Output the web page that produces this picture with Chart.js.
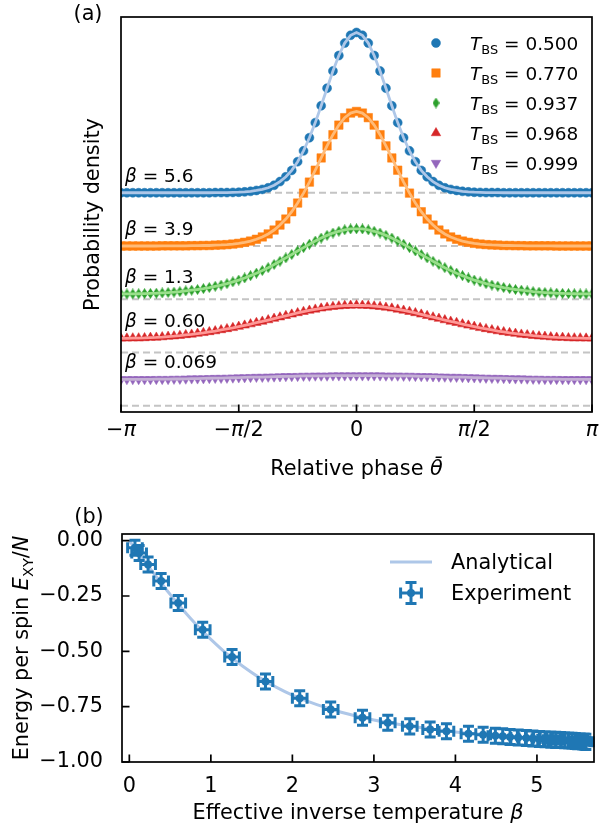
<!DOCTYPE html>
<html>
<head>
<meta charset="utf-8">
<title>Phase distributions and energy per spin</title>
<script src="https://cdn.jsdelivr.net/npm/chart.js@4.4.1/dist/chart.umd.min.js"></script>
<style>
  html, body { margin: 0; padding: 0; background: #ffffff; }
  #wrap { position: relative; width: 600px; height: 823px; overflow: hidden; }
  .panel { position: absolute; left: 0; width: 600px; }
  #panelA { top: 0; height: 490px; }
  #panelB { top: 490px; height: 333px; }
</style>
</head>
<body>
<div id="wrap">
  <div class="panel" id="panelA"><canvas id="chartA"></canvas></div>
  <div class="panel" id="panelB"><canvas id="chartB"></canvas></div>
</div>
<script>
// ---------- panel (a): phase distributions ----------
const phaseDeg = [
  -180, -175.5, -171, -166.5, -162, -157.5, -153, -148.5, -144, -139.5,
  -135, -130.5, -126, -121.5, -117, -112.5, -108, -103.5, -99, -94.5,
  -90, -85.5, -81, -76.5, -72, -67.5, -63, -58.5, -54, -49.5,
  -45, -40.5, -36, -31.5, -27, -22.5, -18, -13.5, -9, -4.5,
  0,
  4.5, 9, 13.5, 18, 22.5, 27, 31.5, 36, 40.5, 45,
  49.5, 54, 58.5, 63, 67.5, 72, 76.5, 81, 85.5, 90,
  94.5, 99, 103.5, 108, 112.5, 117, 121.5, 126, 130.5, 135,
  139.5, 144, 148.5, 153, 157.5, 162, 166.5, 171, 175.5, 180
];
const phaseTicks = [-180, -90, 0, 90, 180];
const phaseTickLabels = ['\u2212\u03c0', '\u2212\u03c0/2', '0', '\u03c0/2', '\u03c0'];

const transmissions = ['0.500', '0.770', '0.937', '0.968', '0.999'];
const betaLabels = ['5.6', '3.9', '1.3', '0.60', '0.069'];
const offsets = [1.2, 0.9, 0.6, 0.3, 0];

const density56 = [
  0, 0, 0, 0, 0, 0, 0, 0, 0, 0, 0, 0, 0, 0, 0, 0,
  0.001, 0.001, 0.001, 0.002, 0.003, 0.005, 0.008, 0.013, 0.019, 0.028, 0.042, 0.063,
  0.090, 0.126, 0.175, 0.236, 0.310, 0.395, 0.490, 0.589, 0.686, 0.773, 0.843, 0.887,
  0.903,
  0.887, 0.843, 0.773, 0.686, 0.589, 0.490, 0.395, 0.310, 0.236, 0.175, 0.126, 0.090,
  0.063, 0.042, 0.028, 0.019, 0.013, 0.008, 0.005, 0.003, 0.002, 0.001, 0.001, 0.001,
  0, 0, 0, 0, 0, 0, 0, 0, 0, 0, 0, 0, 0, 0, 0, 0
];
const density39 = [
  0, 0, 0, 0, 0, 0, 0, 0.001, 0.001, 0.001, 0.001, 0.001, 0.002, 0.002, 0.003, 0.003,
  0.005, 0.006, 0.008, 0.011, 0.015, 0.021, 0.028, 0.038, 0.051, 0.068, 0.090, 0.118,
  0.152, 0.193, 0.242, 0.298, 0.360, 0.427, 0.496, 0.564, 0.627, 0.681, 0.723, 0.749,
  0.758,
  0.749, 0.723, 0.681, 0.627, 0.564, 0.496, 0.427, 0.360, 0.298, 0.242, 0.193, 0.152,
  0.118, 0.090, 0.068, 0.051, 0.038, 0.028, 0.021, 0.015, 0.011, 0.008, 0.006, 0.005,
  0.003, 0.003, 0.002, 0.002, 0.001, 0.001, 0.001, 0.001, 0.001, 0, 0, 0, 0, 0, 0, 0
];
const density13 = [
  0.030, 0.030, 0.030, 0.031, 0.032, 0.033, 0.034, 0.036, 0.038, 0.040, 0.043, 0.047,
  0.051, 0.055, 0.060, 0.066, 0.073, 0.080, 0.088, 0.098, 0.108, 0.120, 0.133, 0.147,
  0.162, 0.178, 0.196, 0.214, 0.233, 0.252, 0.272, 0.291, 0.310, 0.328, 0.345, 0.360,
  0.373, 0.383, 0.391, 0.396,
  0.397,
  0.396, 0.391, 0.383, 0.373, 0.360, 0.345, 0.328, 0.310, 0.291, 0.272, 0.252, 0.233,
  0.214, 0.196, 0.178, 0.162, 0.147, 0.133, 0.120, 0.108, 0.098, 0.088, 0.080, 0.073,
  0.066, 0.060, 0.055, 0.051, 0.047, 0.043, 0.040, 0.038, 0.036, 0.034, 0.033, 0.032,
  0.031, 0.030, 0.030, 0.030
];
const density060 = [
  0.080, 0.080, 0.081, 0.081, 0.082, 0.084, 0.085, 0.087, 0.090, 0.092, 0.095, 0.099,
  0.102, 0.107, 0.111, 0.116, 0.121, 0.127, 0.133, 0.139, 0.146, 0.153, 0.160, 0.168,
  0.175, 0.183, 0.191, 0.199, 0.207, 0.215, 0.223, 0.230, 0.237, 0.243, 0.249, 0.254,
  0.258, 0.261, 0.264, 0.265,
  0.266,
  0.265, 0.264, 0.261, 0.258, 0.254, 0.249, 0.243, 0.237, 0.230, 0.223, 0.215, 0.207,
  0.199, 0.191, 0.183, 0.175, 0.168, 0.160, 0.153, 0.146, 0.139, 0.133, 0.127, 0.121,
  0.116, 0.111, 0.107, 0.102, 0.099, 0.095, 0.092, 0.090, 0.087, 0.085, 0.084, 0.082,
  0.081, 0.081, 0.080, 0.080
];
const density0069 = [
  0.148, 0.149, 0.149, 0.149, 0.149, 0.149, 0.150, 0.150, 0.150, 0.151, 0.151, 0.152,
  0.153, 0.153, 0.154, 0.155, 0.156, 0.156, 0.157, 0.158, 0.159, 0.160, 0.161, 0.162,
  0.162, 0.163, 0.164, 0.165, 0.166, 0.166, 0.167, 0.168, 0.168, 0.169, 0.169, 0.169,
  0.170, 0.170, 0.170, 0.170,
  0.170,
  0.170, 0.170, 0.170, 0.170, 0.169, 0.169, 0.169, 0.168, 0.168, 0.167, 0.166, 0.166,
  0.165, 0.164, 0.163, 0.162, 0.162, 0.161, 0.160, 0.159, 0.158, 0.157, 0.156, 0.156,
  0.155, 0.154, 0.153, 0.153, 0.152, 0.151, 0.151, 0.150, 0.150, 0.150, 0.149, 0.149,
  0.149, 0.149, 0.149, 0.148
];
const densities = [density56, density39, density13, density060, density0069];

// ---------- panel (b): energy per spin ----------
const betaExp = [
  0.069, 0.12, 0.23, 0.39, 0.60, 0.90, 1.26, 1.67, 2.09, 2.47, 2.86, 3.17, 3.44, 3.69, 3.89,
  4.16, 4.34, 4.49, 4.58, 4.67, 4.77, 4.87, 4.95, 5.03, 5.10, 5.17, 5.23, 5.29, 5.34, 5.39,
  5.43, 5.47, 5.50, 5.53, 5.56, 5.58, 5.60
];
const energyExp = [
  -0.032, -0.056, -0.108, -0.182, -0.282, -0.403, -0.526, -0.636, -0.712, -0.763, -0.800,
  -0.823, -0.839, -0.853, -0.861, -0.872, -0.877, -0.881, -0.884, -0.887, -0.889, -0.892,
  -0.894, -0.896, -0.897, -0.899, -0.900, -0.901, -0.902, -0.903, -0.904, -0.905, -0.906,
  -0.906, -0.907, -0.908, -0.909
];
const betaErr = [
  0.09, 0.09, 0.09, 0.09, 0.09, 0.09, 0.09, 0.09, 0.09, 0.09, 0.09, 0.09, 0.09,
  0.09, 0.09, 0.09, 0.09, 0.09, 0.09, 0.09, 0.09, 0.09, 0.09, 0.09, 0.09, 0.09,
  0.09, 0.09, 0.09, 0.09, 0.09, 0.09, 0.09, 0.09, 0.09, 0.09, 0.09
];
const energyErr = [
  0.034, 0.034, 0.034, 0.034, 0.034, 0.034, 0.034, 0.034, 0.034, 0.034, 0.034, 0.034, 0.034,
  0.034, 0.034, 0.034, 0.034, 0.034, 0.034, 0.034, 0.034, 0.034, 0.034, 0.034, 0.034, 0.034,
  0.034, 0.034, 0.034, 0.034, 0.034, 0.034, 0.034, 0.034, 0.034, 0.034, 0.034
];
const betaTheory = [0, 0.05, 0.1, 0.2, 0.3, 0.4, 0.5, 0.6, 0.7, 0.8, 0.9, 1.0, 1.2, 1.4, 1.6,
  1.8, 2.0, 2.3, 2.6, 3.0, 3.5, 4.0, 4.5, 5.0, 5.6, 5.7];
const energyTheory = [0, -0.025, -0.050, -0.100, -0.148, -0.196, -0.243, -0.287, -0.330,
  -0.371, -0.410, -0.446, -0.513, -0.570, -0.620, -0.662, -0.698, -0.741, -0.775, -0.810,
  -0.841, -0.864, -0.880, -0.893, -0.906, -0.908];
const betaTicks = [0, 1, 2, 3, 4, 5];
const energyTicks = [0, -0.25, -0.5, -0.75, -1];

// ---------- helpers ----------
Chart.defaults.font.family = 'DejaVu Sans';
Chart.defaults.color = '#000';

const FS = 20.8;   // axis labels / ticks
const SFS = 18.5;  // legend (a) and beta annotations

// parts: [text, kind]  kind: '' normal, 'i' italic, 's' subscript
function richText(ctx, parts, x, y, size, align, rotation) {
  const fontFor = k => (k === 'i' ? 'italic ' : '') + (k === 's' ? size * 0.7 : size) + 'px "DejaVu Sans"';
  let w = 0;
  parts.forEach(p => { ctx.font = fontFor(p[1]); w += ctx.measureText(p[0]).width; });
  ctx.save();
  ctx.translate(x, y);
  if (rotation) ctx.rotate(rotation);
  let cx = align === 'center' ? -w / 2 : (align === 'right' ? -w : 0);
  ctx.fillStyle = '#000';
  ctx.textBaseline = 'alphabetic';
  ctx.textAlign = 'left';
  parts.forEach(p => {
    ctx.font = fontFor(p[1]);
    ctx.fillText(p[0], cx, size * 0.36 + (p[1] === 's' ? size * 0.22 : 0));
    cx += ctx.measureText(p[0]).width;
  });
  ctx.restore();
}

// "−π/2" -> pieces with an italic pi
function piParts(label) {
  const parts = [];
  label.split(/(\u03c0)/).forEach(t => { if (t) parts.push([t, t === '\u03c0' ? 'i' : '']); });
  return parts;
}

function thinDiamond(color, w, h) {
  const c = document.createElement('canvas');
  c.width = w; c.height = h;
  const g = c.getContext('2d');
  g.fillStyle = color;
  g.beginPath();
  g.moveTo(w / 2, 0); g.lineTo(w, h / 2); g.lineTo(w / 2, h); g.lineTo(0, h / 2);
  g.closePath();
  g.fill();
  return c;
}

const curveStyles = [
  { color: '#1f77b4', light: '#aec7e8', pointStyle: 'circle', radius: 4.5, rotation: 0 },
  { color: '#ff7f0e', light: '#ffbb78', pointStyle: 'rect', radius: 6, rotation: 0 },
  { color: '#2ca02c', light: '#98df8a', pointStyle: thinDiamond('#2ca02c', 7, 11), radius: 5, rotation: 0 },
  { color: '#d62728', light: '#ff9896', pointStyle: 'triangle', radius: 5.5, rotation: 0 },
  { color: '#9467bd', light: '#c5b0d5', pointStyle: 'triangle', radius: 5.5, rotation: 180 }
];

// ---------- chart (a) ----------
const datasetsA = [];
densities.forEach((dens, i) => {
  const s = curveStyles[i];
  const pts = phaseDeg.map((p, j) => ({ x: p, y: dens[j] + offsets[i] }));
  datasetsA.push({
    data: pts, showLine: true, borderColor: s.light, borderWidth: 2.8,
    pointRadius: 0, order: 100 - 3 * i
  });
  datasetsA.push({
    data: pts, showLine: false, pointStyle: s.pointStyle, pointRadius: s.radius,
    pointRotation: s.rotation, backgroundColor: s.color, borderColor: s.color,
    borderWidth: 0.5, order: 101 - 3 * i
  });
  datasetsA.push({
    data: [{ x: -180, y: offsets[i] }, { x: 180, y: offsets[i] }], showLine: true,
    borderColor: '#c4c4c4', borderWidth: 2, borderDash: [7, 4], pointRadius: 0, order: 200
  });
});

const decorA = {
  id: 'decorA',
  afterDraw(chart) {
    const { ctx, chartArea: a, scales: { x, y } } = chart;
    ctx.save();
    ctx.strokeStyle = '#000';
    ctx.lineWidth = 1.7;
    ctx.beginPath();
    phaseTicks.forEach(v => {
      const px = x.getPixelForValue(v);
      ctx.moveTo(px, a.bottom); ctx.lineTo(px, a.bottom - 7.5);
    });
    ctx.stroke();
    ctx.strokeRect(a.left, a.top, a.right - a.left, a.bottom - a.top);

    phaseTicks.forEach((v, i) => {
      richText(ctx, piParts(phaseTickLabels[i]), x.getPixelForValue(v), a.bottom + 17, FS, 'center');
    });

    densities.forEach((dens, i) => {
      const py = y.getPixelForValue(offsets[i] + dens[0] + 0.1);
      richText(ctx, [['\u03b2', 'i'], [' = ' + betaLabels[i], '']], a.left + 4, py, SFS, 'left');
    });

    curveStyles.forEach((s, i) => {
      const ly = a.top + 26 + i * 30;
      ctx.fillStyle = s.color;
      ctx.strokeStyle = s.color;
      ctx.lineWidth = 0.5;
      Chart.helpers.drawPoint(ctx, { pointStyle: s.pointStyle, radius: s.radius, rotation: s.rotation, borderWidth: 0.5 }, a.right - 156, ly);
      richText(ctx, [['T', 'i'], ['BS', 's'], [' = ' + transmissions[i], '']], a.right - 122, ly, SFS, 'left');
    });

    richText(ctx, [['Relative phase ', ''], ['\u03b8\u0304', 'i']], (a.left + a.right) / 2, 468, FS, 'center');
    richText(ctx, [['Probability density', '']], 92, (a.top + a.bottom) / 2, FS, 'center', -Math.PI / 2);
    richText(ctx, [['(a)', '']], 88, 13, FS, 'center');
    ctx.restore();
  }
};

new Chart(document.getElementById('chartA'), {
  type: 'scatter',
  data: { datasets: datasetsA },
  options: {
    responsive: true,
    maintainAspectRatio: false,
    animation: false,
    devicePixelRatio: 1,
    events: [],
    layout: { padding: { top: 17, right: 8, bottom: 0, left: 0 } },
    plugins: { legend: { display: false }, tooltip: { enabled: false } },
    scales: {
      x: {
        type: 'linear', min: -180, max: 180,
        afterBuildTicks: s => { s.ticks = phaseTicks.map(v => ({ value: v })); },
        afterFit: s => { s.height = 78; },
        grid: { display: false }, border: { display: false },
        ticks: { display: false }
      },
      y: {
        type: 'linear', min: -0.035, max: 2.19,
        afterFit: s => { s.width = 121; },
        grid: { display: false }, border: { display: false },
        ticks: { display: false }
      }
    }
  },
  plugins: [decorA]
});

// ---------- chart (b) ----------
const decorB = {
  id: 'decorB',
  afterDatasetsDraw(chart) {
    const { ctx, scales: { x, y } } = chart;
    ctx.save();
    ctx.strokeStyle = '#1f77b4';
    ctx.lineWidth = 3;
    ctx.beginPath();
    betaExp.forEach((b, i) => {
      const px = x.getPixelForValue(b), py = y.getPixelForValue(energyExp[i]);
      const x0 = x.getPixelForValue(b - betaErr[i]), x1 = x.getPixelForValue(b + betaErr[i]);
      const y0 = y.getPixelForValue(energyExp[i] + energyErr[i]), y1 = y.getPixelForValue(energyExp[i] - energyErr[i]);
      ctx.moveTo(x0, py); ctx.lineTo(x1, py);
      ctx.moveTo(px, y0); ctx.lineTo(px, y1);
      ctx.moveTo(x0, py - 5.5); ctx.lineTo(x0, py + 5.5);
      ctx.moveTo(x1, py - 5.5); ctx.lineTo(x1, py + 5.5);
      ctx.moveTo(px - 5.5, y0); ctx.lineTo(px + 5.5, y0);
      ctx.moveTo(px - 5.5, y1); ctx.lineTo(px + 5.5, y1);
    });
    ctx.stroke();
    ctx.restore();
  },
  afterDraw(chart) {
    const { ctx, chartArea: a, scales: { x, y } } = chart;
    ctx.save();
    ctx.strokeStyle = '#000';
    ctx.lineWidth = 1.7;
    ctx.beginPath();
    betaTicks.forEach(v => {
      const px = x.getPixelForValue(v);
      ctx.moveTo(px, a.bottom); ctx.lineTo(px, a.bottom - 7.5);
    });
    energyTicks.forEach(v => {
      const py = y.getPixelForValue(v);
      ctx.moveTo(a.left, py); ctx.lineTo(a.left + 7.5, py);
    });
    ctx.stroke();
    ctx.strokeRect(a.left, a.top, a.right - a.left, a.bottom - a.top);

    // legend
    const r1 = a.top + 28, r2 = a.top + 59;
    ctx.strokeStyle = '#aec7e8';
    ctx.lineWidth = 3;
    ctx.beginPath();
    ctx.moveTo(a.right - 204, r1); ctx.lineTo(a.right - 162, r1);
    ctx.stroke();
    const cx = a.right - 183;
    ctx.strokeStyle = '#1f77b4';
    ctx.lineWidth = 3;
    ctx.beginPath();
    ctx.moveTo(cx - 10.4, r2); ctx.lineTo(cx + 10.4, r2);
    ctx.moveTo(cx, r2 - 10.4); ctx.lineTo(cx, r2 + 10.4);
    ctx.moveTo(cx - 10.4, r2 - 5.5); ctx.lineTo(cx - 10.4, r2 + 5.5);
    ctx.moveTo(cx + 10.4, r2 - 5.5); ctx.lineTo(cx + 10.4, r2 + 5.5);
    ctx.moveTo(cx - 5.5, r2 - 10.4); ctx.lineTo(cx + 5.5, r2 - 10.4);
    ctx.moveTo(cx - 5.5, r2 + 10.4); ctx.lineTo(cx + 5.5, r2 + 10.4);
    ctx.stroke();
    ctx.fillStyle = '#1f77b4';
    ctx.beginPath(); ctx.arc(cx, r2, 4, 0, Math.PI * 2); ctx.fill();
    richText(ctx, [['Analytical', '']], a.right - 143, r1, FS, 'left');
    richText(ctx, [['Experiment', '']], a.right - 143, r2, FS, 'left');

    richText(ctx, [['Effective inverse temperature ', ''], ['\u03b2', 'i']], (a.left + a.right) / 2, 322, FS, 'center');
    richText(ctx, [['Energy per spin ', ''], ['E', 'i'], ['XY', 's'], ['/', ''], ['N', 'i']], 21, (a.top + a.bottom) / 2, FS, 'center', -Math.PI / 2);
    richText(ctx, [['(b)', '']], 89, 26, FS, 'center');
    ctx.restore();
  }
};

new Chart(document.getElementById('chartB'), {
  type: 'scatter',
  data: {
    datasets: [
      {
        label: 'Analytical',
        data: betaTheory.map((b, i) => ({ x: b, y: energyTheory[i] })),
        showLine: true, borderColor: '#aec7e8', borderWidth: 3, pointRadius: 0,
        cubicInterpolationMode: 'monotone', order: 2
      },
      {
        label: 'Experiment',
        data: betaExp.map((b, i) => ({ x: b, y: energyExp[i] })),
        showLine: false, pointRadius: 4, backgroundColor: '#1f77b4', borderColor: '#1f77b4',
        borderWidth: 0, order: 1
      }
    ]
  },
  options: {
    responsive: true,
    maintainAspectRatio: false,
    animation: false,
    devicePixelRatio: 1,
    events: [],
    layout: { padding: { top: 44, right: 6, bottom: 0, left: 0 } },
    plugins: { legend: { display: false }, tooltip: { enabled: false } },
    scales: {
      x: {
        type: 'linear', min: -0.09, max: 5.7,
        afterBuildTicks: s => { s.ticks = betaTicks.map(v => ({ value: v })); },
        afterFit: s => { s.height = 61; },
        grid: { display: false }, border: { display: false },
        ticks: { font: { size: FS }, color: '#000', padding: 4, maxRotation: 0, autoSkip: false,
          callback: v => String(v) }
      },
      y: {
        type: 'linear', min: -1.0, max: 0.03,
        afterBuildTicks: s => { s.ticks = energyTicks.map(v => ({ value: v })); },
        afterFit: s => { s.width = 122; },
        grid: { display: false }, border: { display: false },
        ticks: { font: { size: FS }, color: '#000', padding: 11, autoSkip: false,
          callback: v => (v === 0 ? '0.00' : '\u2212' + Math.abs(v).toFixed(2)) }
      }
    }
  },
  plugins: [decorB]
});
</script>
</body>
</html>
